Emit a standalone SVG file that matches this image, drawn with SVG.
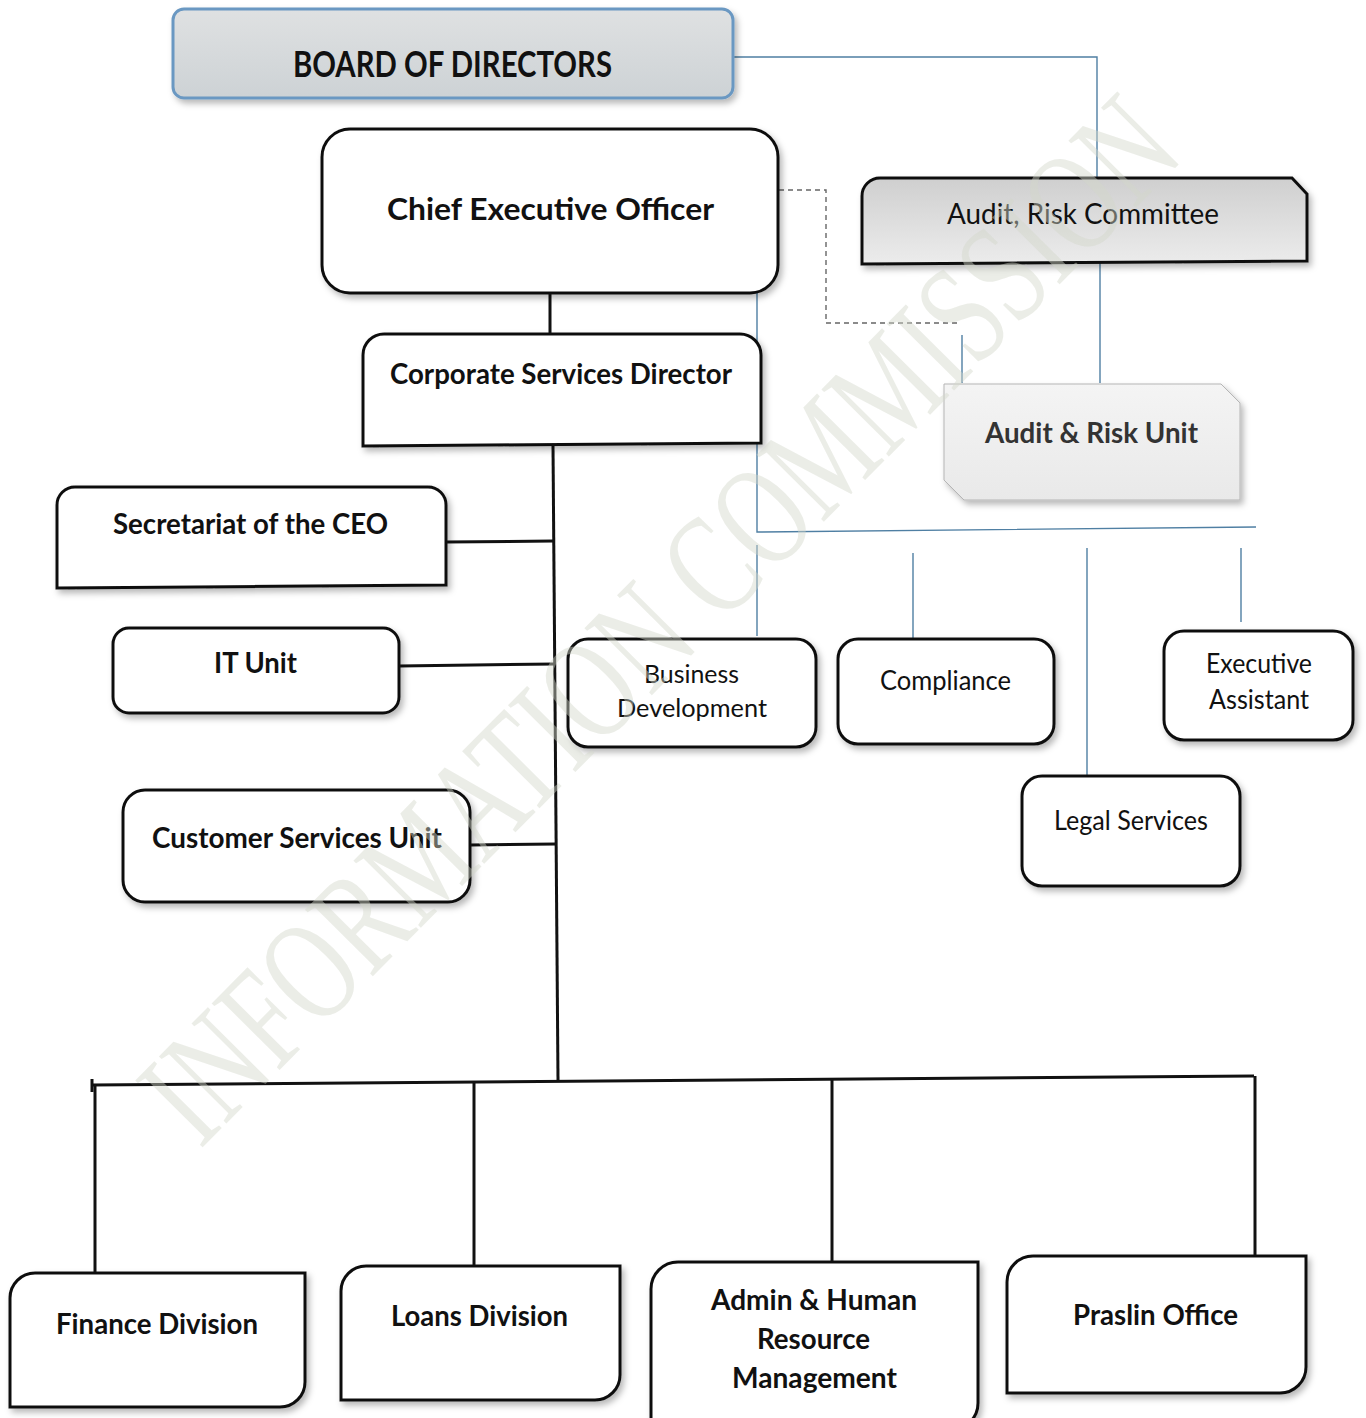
<svg xmlns="http://www.w3.org/2000/svg" width="1366" height="1418" viewBox="0 0 1366 1418">
<defs>
<linearGradient id="gBoard" x1="0" y1="0" x2="0" y2="1"><stop offset="0" stop-color="#dfe1e2"/><stop offset="1" stop-color="#cdd2d5"/></linearGradient>
<linearGradient id="gArc" x1="0" y1="0" x2="0" y2="1"><stop offset="0" stop-color="#cfcfcf"/><stop offset="1" stop-color="#ececec"/></linearGradient>
<linearGradient id="gAru" x1="0" y1="0" x2="0" y2="1"><stop offset="0" stop-color="#f4f4f4"/><stop offset="1" stop-color="#e9e9e9"/></linearGradient>
<filter id="sh" x="-10%" y="-10%" width="125%" height="130%"><feDropShadow dx="3" dy="4" stdDeviation="3" flood-color="#000" flood-opacity="0.28"/></filter>
</defs>
<style>
.box{fill:#fff;stroke:#111;stroke-width:3;filter:url(#sh)}
.b{font-family:Lato,"Open Sans","Liberation Sans",sans-serif;font-weight:700;fill:#111;text-anchor:start}
.r{font-family:Lato,"Open Sans","Liberation Sans",sans-serif;font-weight:400;fill:#111;text-anchor:start}
.k{fill:none;stroke:#111;stroke-width:3}
.bl{fill:none;stroke:#4f7fa3;stroke-width:1.4}
.ds{fill:none;stroke:#666;stroke-width:1.4;stroke-dasharray:5 4}
.wm{font-family:"Liberation Serif",serif;font-size:145px;fill:#d3d6ca;fill-opacity:0.45}
</style>
<rect width="1366" height="1418" fill="#fff"/>

<g id="connectors">
<path class="bl" d="M733,57 H1097 V178"/>
<path class="bl" d="M1100,262 V383"/>
<path class="bl" d="M962,335 V383"/>
<path class="ds" d="M779,190 H826 V323 H958"/>
<path class="bl" d="M757,292 V532 L1256,527"/>
<path class="bl" d="M757,545 V636"/>
<path class="bl" d="M913,553 V638"/>
<path class="bl" d="M1087,548 V776"/>
<path class="bl" d="M1241,548 V622"/>
<path class="k" d="M550,293 V333"/>
<path class="k" d="M553,446 L558,1080"/>
<path class="k" d="M446,542 L553,541"/>
<path class="k" d="M399,666 L555,664"/>
<path class="k" d="M470,845 L556,844"/>
<path class="k" d="M92,1085 L1254,1076"/>
<path class="k" d="M92,1079 V1092"/>
<path class="k" d="M95,1085 V1275"/>
<path class="k" d="M474,1083 V1268"/>
<path class="k" d="M832,1079 V1263"/>
<path class="k" d="M1255,1076 V1258"/>
</g>

<g id="board">
<rect x="173" y="9" width="560" height="89" rx="11" fill="url(#gBoard)" stroke="#6b98c2" stroke-width="3" filter="url(#sh)"/>
<text class="b" x="293" y="77" font-size="37" textLength="319" lengthAdjust="spacingAndGlyphs">BOARD OF DIRECTORS</text>
</g>

<g id="ceo">
<rect class="box" x="322" y="129" width="456" height="164" rx="28"/>
<text class="b" x="387" y="220" font-size="31" textLength="327" lengthAdjust="spacingAndGlyphs">Chief Executive Officer</text>
</g>

<g id="csd">
<path class="box" d="M363,446 V355 A21,21 0 0 1 384,334 H740 A21,21 0 0 1 761,355 V443 Z"/>
<text class="b" x="390" y="384" font-size="28" textLength="342" lengthAdjust="spacingAndGlyphs">Corporate Services Director</text>
</g>

<g id="arc">
<path d="M862,264 V196 A18,18 0 0 1 880,178 H1292 L1307,194 V261 Z" fill="url(#gArc)" stroke="#111" stroke-width="3" filter="url(#sh)"/>
<text class="r" x="947" y="224" font-size="28" textLength="272" lengthAdjust="spacingAndGlyphs">Audit, Risk Committee</text>
</g>

<g id="aru">
<path d="M944,384 H1221 L1240,403 V500 H964 L944,480 Z" fill="url(#gAru)" stroke="#b5b5b5" stroke-width="1" filter="url(#sh)"/>
<text class="b" x="985" y="443" font-size="29" textLength="213" lengthAdjust="spacingAndGlyphs" style="fill:#333">Audit &amp; Risk Unit</text>
</g>

<g id="secretariat">
<path class="box" d="M57,588 V505 A18,18 0 0 1 75,487 H428 A18,18 0 0 1 446,505 V585 Z"/>
<text class="b" x="113" y="534" font-size="29" textLength="275" lengthAdjust="spacingAndGlyphs">Secretariat of the CEO</text>
</g>

<g id="it">
<rect class="box" x="113" y="628" width="286" height="85" rx="16"/>
<text class="b" x="214" y="673" font-size="29" textLength="83" lengthAdjust="spacingAndGlyphs">IT Unit</text>
</g>

<g id="customer">
<rect class="box" x="123" y="790" width="347" height="112" rx="22"/>
<text class="b" x="152" y="848" font-size="29" textLength="290" lengthAdjust="spacingAndGlyphs">Customer Services Unit</text>
</g>

<g id="bizdev">
<rect class="box" x="568" y="639" width="248" height="108" rx="20"/>
<text class="r" x="644" y="683" font-size="25" textLength="95" lengthAdjust="spacingAndGlyphs">Business</text>
<text class="r" x="617" y="717" font-size="25" textLength="150" lengthAdjust="spacingAndGlyphs">Development</text>
</g>

<g id="compliance">
<rect class="box" x="838" y="639" width="216" height="105" rx="20"/>
<text class="r" x="880" y="690" font-size="26" textLength="131" lengthAdjust="spacingAndGlyphs">Compliance</text>
</g>

<g id="exec">
<rect class="box" x="1164" y="631" width="189" height="109" rx="20"/>
<text class="r" x="1206" y="673" font-size="26" textLength="106" lengthAdjust="spacingAndGlyphs">Executive</text>
<text class="r" x="1209" y="709" font-size="26" textLength="100" lengthAdjust="spacingAndGlyphs">Assistant</text>
</g>

<g id="legal">
<rect class="box" x="1022" y="776" width="218" height="110" rx="20"/>
<text class="r" x="1054" y="830" font-size="26" textLength="154" lengthAdjust="spacingAndGlyphs">Legal Services</text>
</g>

<g id="finance">
<path class="box" d="M10,1407 V1298 A25,25 0 0 1 35,1273 H305 V1382 A25,25 0 0 1 280,1407 Z"/>
<text class="b" x="56" y="1334" font-size="29" textLength="202" lengthAdjust="spacingAndGlyphs">Finance Division</text>
</g>

<g id="loans">
<path class="box" d="M341,1400 V1291 A25,25 0 0 1 366,1266 H620 V1375 A25,25 0 0 1 595,1400 Z"/>
<text class="b" x="391" y="1326" font-size="29" textLength="177" lengthAdjust="spacingAndGlyphs">Loans Division</text>
</g>

<g id="admin">
<path class="box" d="M651,1430 V1289 A27,27 0 0 1 678,1262 H978 V1403 A27,27 0 0 1 951,1430 Z"/>
<text class="b" x="711" y="1310" font-size="29" textLength="206" lengthAdjust="spacingAndGlyphs">Admin &amp; Human</text>
<text class="b" x="757" y="1349" font-size="29" textLength="113" lengthAdjust="spacingAndGlyphs">Resource</text>
<text class="b" x="732" y="1388" font-size="29" textLength="165" lengthAdjust="spacingAndGlyphs">Management</text>
</g>

<g id="praslin">
<path class="box" d="M1007,1393 V1282 A26,26 0 0 1 1033,1256 H1306 V1367 A26,26 0 0 1 1280,1393 Z"/>
<text class="b" x="1073" y="1325" font-size="29" textLength="165" lengthAdjust="spacingAndGlyphs">Praslin Office</text>
</g>

<text class="wm" transform="translate(200,1150) rotate(-45.2)" textLength="1400" lengthAdjust="spacingAndGlyphs">INFORMATION COMMISSION</text>
</svg>
